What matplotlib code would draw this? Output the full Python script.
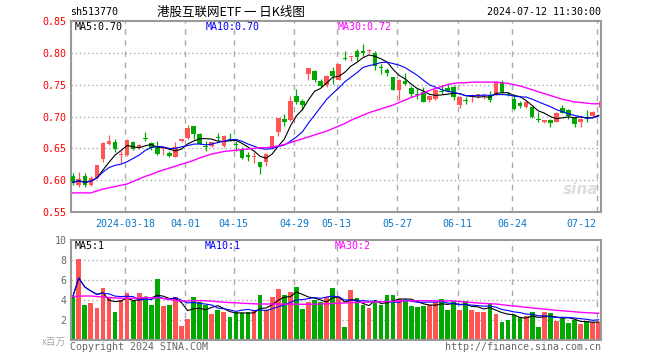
import numpy as np
import pandas as pd
import matplotlib
matplotlib.use("Agg")
import matplotlib.pyplot as plt

# daily candles, 2024-03-05 .. 2024-07-12 (88 trading days)
opens = [0.6068, 0.5927, 0.6068, 0.5927, 0.6040, 0.6328, 0.6568, 0.6594, 0.6390, 0.6396,
         0.6599, 0.6516, 0.6651, 0.6578, 0.6536, 0.6485, 0.6427, 0.6360, 0.6609, 0.6656,
         0.6849, 0.6729, 0.6531, 0.6536, 0.6670, 0.6536, 0.6646, 0.6568, 0.6495, 0.6396,
         0.6360, 0.6281, 0.6292, 0.6500, 0.6760, 0.6958, 0.6943, 0.7318, 0.7240, 0.7661,
         0.7708, 0.7552, 0.7490, 0.7708, 0.7578, 0.7906, 0.7938, 0.8036, 0.8021, 0.8031,
         0.7995, 0.7776, 0.7724, 0.7620, 0.7422, 0.7552, 0.7453, 0.7354, 0.7380, 0.7266,
         0.7271, 0.7396, 0.7453, 0.7464, 0.7185, 0.7255, 0.7318, 0.7333, 0.7320, 0.7333,
         0.7345, 0.7526, 0.7360, 0.7281, 0.7214, 0.7151, 0.7151, 0.6948, 0.6906, 0.6943,
         0.6917, 0.7141, 0.7099, 0.6979, 0.6906, 0.6989, 0.7005, 0.7190]
highs = [0.6109, 0.6130, 0.6110, 0.6068, 0.6240, 0.6604, 0.6710, 0.6646, 0.6458, 0.6646,
         0.6610, 0.6562, 0.6750, 0.6604, 0.6615, 0.6505, 0.6458, 0.6594, 0.6650, 0.6860,
         0.6850, 0.6745, 0.6615, 0.6604, 0.6734, 0.6708, 0.6734, 0.6620, 0.6516, 0.6438,
         0.6438, 0.6281, 0.6430, 0.6698, 0.6984, 0.7036, 0.7318, 0.7425, 0.7281, 0.7760,
         0.7734, 0.7583, 0.7646, 0.7776, 0.7830, 0.8026, 0.7958, 0.8062, 0.8140, 0.8062,
         0.8026, 0.7828, 0.7766, 0.7620, 0.7594, 0.7682, 0.7479, 0.7448, 0.7460, 0.7333,
         0.7438, 0.7490, 0.7516, 0.7490, 0.7318, 0.7307, 0.7349, 0.7360, 0.7350, 0.7401,
         0.7550, 0.7580, 0.7380, 0.7359, 0.7240, 0.7240, 0.7151, 0.7073, 0.6950, 0.6960,
         0.7073, 0.7177, 0.7110, 0.6979, 0.6970, 0.7099, 0.7080, 0.7250]
lows = [0.5917, 0.5900, 0.5885, 0.5910, 0.6030, 0.6281, 0.6552, 0.6443, 0.6276, 0.6385,
        0.6474, 0.6490, 0.6620, 0.6474, 0.6396, 0.6397, 0.6360, 0.6360, 0.6600, 0.6640,
        0.6650, 0.6563, 0.6458, 0.6526, 0.6615, 0.6526, 0.6620, 0.6458, 0.6333, 0.6307,
        0.6276, 0.6099, 0.6224, 0.6490, 0.6693, 0.6854, 0.6932, 0.7193, 0.7109, 0.7578,
        0.7542, 0.7464, 0.7464, 0.7505, 0.7578, 0.7880, 0.7870, 0.7870, 0.7943, 0.8005,
        0.7734, 0.7672, 0.7630, 0.7411, 0.7266, 0.7490, 0.7307, 0.7271, 0.7229, 0.7229,
        0.7260, 0.7349, 0.7385, 0.7266, 0.7130, 0.7203, 0.7229, 0.7297, 0.7280, 0.7229,
        0.7330, 0.7375, 0.7320, 0.7099, 0.7140, 0.7130, 0.6970, 0.6917, 0.6900, 0.6839,
        0.6910, 0.7050, 0.6958, 0.6839, 0.6828, 0.6920, 0.6995, 0.7150]
closes = [0.5964, 0.6016, 0.5917, 0.6040, 0.6234, 0.6589, 0.6620, 0.6484, 0.6401, 0.6630,
          0.6484, 0.6547, 0.6641, 0.6500, 0.6411, 0.6492, 0.6380, 0.6516, 0.6640, 0.6813,
          0.6719, 0.6568, 0.6521, 0.6600, 0.6656, 0.6693, 0.6630, 0.6558, 0.6355, 0.6370,
          0.6380, 0.6208, 0.6411, 0.6693, 0.6984, 0.6917, 0.7240, 0.7220, 0.7177, 0.7760,
          0.7578, 0.7474, 0.7635, 0.7635, 0.7830, 0.7896, 0.7953, 0.7932, 0.8005, 0.8047,
          0.7786, 0.7760, 0.7682, 0.7422, 0.7578, 0.7505, 0.7349, 0.7339, 0.7235, 0.7318,
          0.7422, 0.7380, 0.7400, 0.7300, 0.7300, 0.7245, 0.7333, 0.7345, 0.7335, 0.7255,
          0.7545, 0.7385, 0.7345, 0.7125, 0.7161, 0.7229, 0.6995, 0.6938, 0.6943, 0.6891,
          0.7062, 0.7062, 0.7010, 0.6875, 0.6964, 0.6979, 0.7073, 0.7210]

# volume, millions of shares
volumes = [4.3, 8.1, 3.5, 3.7, 3.2, 5.2, 4.3, 2.8, 4.0, 4.7,
           3.9, 4.7, 4.2, 3.5, 6.1, 3.4, 3.5, 4.3, 1.4, 2.1,
           4.3, 3.8, 3.5, 2.6, 3.0, 2.8, 2.3, 2.8, 2.7, 2.8,
           3.0, 4.5, 3.0, 4.3, 5.1, 4.5, 4.8, 5.3, 3.1, 3.8,
           4.0, 3.8, 4.3, 5.2, 4.3, 1.3, 5.0, 4.2, 3.5, 3.2,
           3.9, 3.5, 4.5, 4.5, 4.1, 3.9, 3.4, 3.3, 3.4, 3.5,
           3.8, 4.1, 3.0, 3.9, 3.0, 3.9, 3.0, 2.8, 2.8, 3.7,
           2.6, 1.8, 2.0, 2.5, 2.3, 2.4, 2.8, 1.3, 2.8, 2.7,
           1.9, 2.1, 1.7, 2.0, 1.6, 1.8, 1.8, 1.8]

# 30-day averages as drawn (they reach back before the first candle)
ma30_price = [0.580, 0.580, 0.580, 0.580, 0.583, 0.586, 0.588, 0.590, 0.592, 0.594,
              0.598, 0.602, 0.606, 0.609, 0.613, 0.616, 0.619, 0.622, 0.625, 0.628,
              0.631, 0.635, 0.638, 0.641, 0.643, 0.645, 0.646, 0.647, 0.648, 0.649,
              0.650, 0.651, 0.651, 0.652, 0.654, 0.656, 0.659, 0.662, 0.665, 0.668,
              0.671, 0.674, 0.677, 0.681, 0.685, 0.689, 0.694, 0.698, 0.702, 0.706,
              0.709, 0.712, 0.715, 0.718, 0.722, 0.726, 0.730, 0.733, 0.737, 0.741,
              0.744, 0.747, 0.750, 0.752, 0.753, 0.753, 0.754, 0.754, 0.754, 0.754,
              0.754, 0.753, 0.752, 0.750, 0.748, 0.745, 0.742, 0.739, 0.736, 0.733,
              0.730, 0.727, 0.725, 0.723, 0.722, 0.721, 0.720, 0.720]
ma30_vol = [4.35, 4.38, 4.40, 4.40, 4.35, 4.30, 4.25, 4.20, 4.18, 4.17,
            4.18, 4.20, 4.22, 4.23, 4.23, 4.15, 4.05, 3.95, 3.90, 3.90,
            3.92, 3.93, 3.93, 3.88, 3.83, 3.78, 3.74, 3.72, 3.68, 3.65,
            3.62, 3.60, 3.60, 3.60, 3.59, 3.59, 3.58, 3.58, 3.57, 3.57,
            3.58, 3.60, 3.62, 3.65, 3.68, 3.70, 3.73, 3.75, 3.77, 3.79,
            3.81, 3.83, 3.85, 3.87, 3.89, 3.91, 3.92, 3.93, 3.93, 3.92,
            3.92, 3.91, 3.91, 3.90, 3.85, 3.80, 3.75, 3.70, 3.66, 3.63,
            3.60, 3.53, 3.46, 3.40, 3.33, 3.27, 3.21, 3.15, 3.09, 3.02,
            2.97, 2.92, 2.87, 2.82, 2.77, 2.73, 2.70, 2.67]

date_idx = [9, 19, 27, 37, 44, 54, 64, 73, 87]
date_labels = ['2024-03-18', '04-01', '04-15', '04-29', '05-13', '05-27', '06-11', '06-24', '07-12']

RED = '#ff5555'
GREEN = '#00a800'
GRID = '#aaaaaa'
FRAME = '#999999'
MONO = 'DejaVu Sans Mono'
W, H = 660, 360


def px(x, y):
    return x / W, 1 - y / H


x = np.arange(len(closes))
o = np.array(opens)
c = np.array(closes)
up = c >= o
colors = np.where(up, RED, GREEN)

ma5 = pd.Series(closes).rolling(5, min_periods=1).mean()
ma10 = pd.Series(closes).rolling(10, min_periods=1).mean()
vma5 = pd.Series(volumes).rolling(5, min_periods=1).mean()
vma10 = pd.Series(volumes).rolling(10, min_periods=1).mean()

fig = plt.figure(figsize=(6.6, 3.6), dpi=100)
left, right = 70.7, 601
ax = fig.add_axes([left / W, 1 - 212 / H, (right - left) / W, (212 - 21) / H])
axv = fig.add_axes([left / W, 1 - 340 / H, (right - left) / W, 100 / H])

xmin, xmax = -0.33, len(closes) - 0.62
grid_x = [i - 0.35 for i in date_idx]

# price panel
for yv in [0.60, 0.65, 0.70, 0.75, 0.80]:
    ax.axhline(yv, color=GRID, lw=1, ls=(0, (1, 2)), zorder=0)
for gx in grid_x:
    ax.axvline(gx, color=GRID, lw=1, ls=(0, (4, 4)), zorder=0)

ax.vlines(x, lows, highs, color=colors, lw=0.9, zorder=2)
body = np.maximum(np.abs(c - o), 0.0016)
ax.bar(x, body, bottom=np.minimum(o, c), width=0.75, color=colors, lw=0, zorder=3)

ax.plot(x, ma5, color='black', lw=0.8, zorder=4)
ax.plot(x, ma10, color='#0000ff', lw=0.8, zorder=4)
ax.plot(x, ma30_price, color='#ff00ff', lw=1.0, zorder=4)

ax.set_xlim(xmin, xmax)
ax.set_ylim(0.55, 0.85)
yt = [0.55, 0.60, 0.65, 0.70, 0.75, 0.80, 0.85]
ax.set_yticks(yt)
ax.set_yticklabels(['%.2f' % v for v in yt], color='#ff0000', fontfamily=MONO, fontsize=7.2)
ax.set_xticks(grid_x)
ax.set_xticklabels(date_labels, color='#0a78c8', fontfamily=MONO, fontsize=7.2)
ax.get_xticklabels()[-1].set_horizontalalignment('right')
ax.tick_params(length=0, pad=3)
ax.tick_params(axis='x', pad=5)

# volume panel
for yv in [2, 4, 6, 8]:
    axv.axhline(yv, color=GRID, lw=1, ls=(0, (1, 2)), zorder=0)
for gx in grid_x:
    axv.axvline(gx, color=GRID, lw=1, ls=(0, (4, 4)), zorder=0)

axv.bar(x, volumes, width=0.78, color=colors, lw=0, zorder=2)
axv.plot(x, vma5, color='black', lw=0.8, zorder=4)
axv.plot(x, vma10, color='#0000ff', lw=0.8, zorder=4)
axv.plot(x, ma30_vol, color='#ff00ff', lw=1.0, zorder=4)

axv.set_xlim(xmin, xmax)
axv.set_ylim(0, 10)
axv.set_yticks([2, 4, 6, 8, 10])
axv.set_yticklabels(['2', '4', '6', '8', '10'], color='#666666', fontfamily=MONO, fontsize=7.2)
axv.set_xticks([])
axv.tick_params(length=0, pad=3)

for a in (ax, axv):
    for s in a.spines.values():
        s.set_color(FRAME)
        s.set_linewidth(1.5)

# header
fig.text(*px(70, 12), 'sh513770', fontfamily=MONO, fontsize=7.2, va='center', ha='left')
fig.text(*px(231, 12), '港股互联网ETF 一 日K线图', fontfamily=['Noto Sans CJK SC', 'DejaVu Sans'],
         fontsize=9, va='center', ha='center')
fig.text(*px(601, 12), '2024-07-12 11:30:00', fontfamily=MONO, fontsize=7.2, va='center', ha='right')

# legends
fig.text(*px(75, 27), 'MA5:0.70', color='black', fontfamily=MONO, fontsize=7.2, va='center')
fig.text(*px(206, 27), 'MA10:0.70', color='#0000ff', fontfamily=MONO, fontsize=7.2, va='center')
fig.text(*px(338, 27), 'MA30:0.72', color='#ff00ff', fontfamily=MONO, fontsize=7.2, va='center')
fig.text(*px(75, 246), 'MA5:1', color='black', fontfamily=MONO, fontsize=7.2, va='center')
fig.text(*px(205, 246), 'MA10:1', color='#0000ff', fontfamily=MONO, fontsize=7.2, va='center')
fig.text(*px(335, 246), 'MA30:2', color='#ff00ff', fontfamily=MONO, fontsize=7.2, va='center')

# watermark + footer
fig.text(*px(598, 190), 'sina', color='#dddddd', fontsize=11, fontweight='bold', style='italic',
         ha='right', va='center')
fig.text(*px(66, 342), 'x百万', color='#aaaaaa', fontfamily=['Noto Sans CJK SC', 'DejaVu Sans'],
         fontsize=7, ha='right', va='center')
fig.text(*px(70, 347), 'Copyright 2024 SINA.COM', color='#666666', fontfamily=MONO, fontsize=7.2,
         va='center')
fig.text(*px(601, 347), 'http://finance.sina.com.cn', color='#666666', fontfamily=MONO, fontsize=7.2,
         va='center', ha='right')

fig.savefig('out.png', dpi=100)
